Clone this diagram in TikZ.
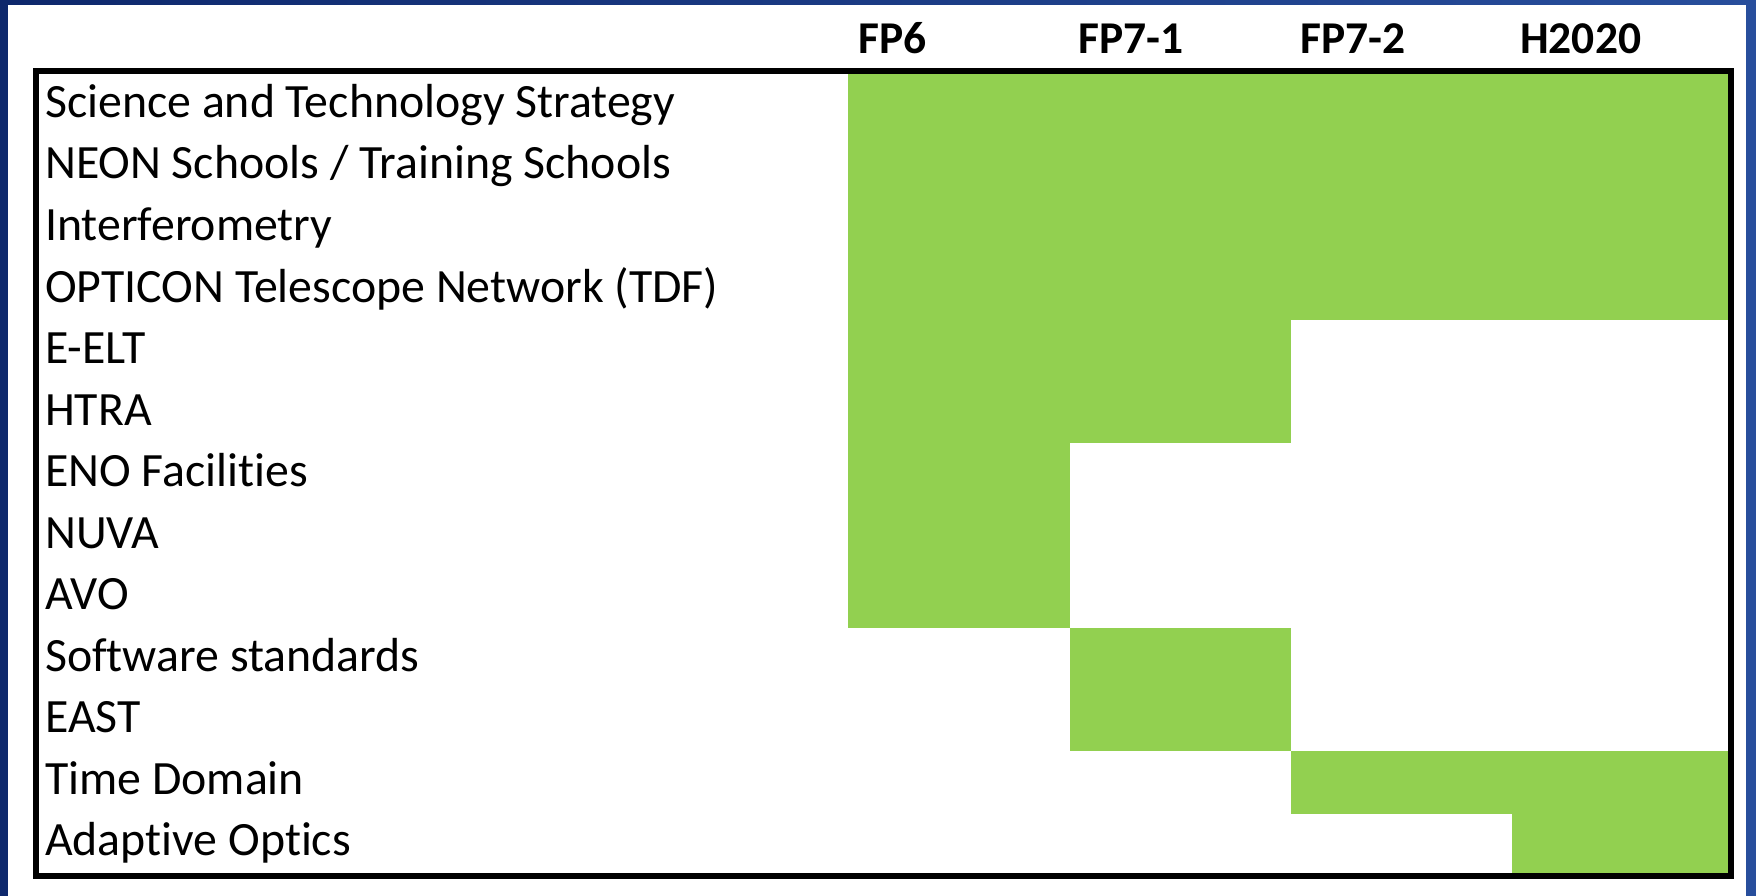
\documentclass[tikz,border=0pt]{standalone}
\usepackage{fontspec}
\setmainfont{Carlito}[Ligatures=NoCommon]
\definecolor{bgdark}{RGB}{14,40,108}
\definecolor{bglight}{RGB}{40,78,156}
\definecolor{cellgreen}{RGB}{146,208,80}
\tikzset{
  rowlabel/.style={anchor=base west, inner sep=0pt, font=\fontsize{47.8}{56}\selectfont},
  headlabel/.style={anchor=base west, inner sep=0pt, font=\fontsize{45.5}{54}\selectfont\bfseries},
  cell/.style={fill=cellgreen, draw=none},
  frame/.style={draw=black, line width=6pt}
}
\begin{document}
\begin{tikzpicture}[x=1pt,y=-1pt]
\useasboundingbox (0,0) rectangle (1756,896);
\shade[left color=bgdark, right color=bglight] (0,0) rectangle (1756,896);
\fill[white] (8,5) rectangle (1746,896);
% green cells
\fill[cell] (848,74) rectangle (1731,320);
\fill[cell] (848,320) rectangle (1291,443);
\fill[cell] (848,443) rectangle (1070,627.5);
\fill[cell] (1070,627.5) rectangle (1291,750.5);
\fill[cell] (1291,750.5) rectangle (1731,814);
\fill[cell] (1512,814) rectangle (1731,873);
% frame
\draw[frame] (36,71) rectangle (1731,876);
% headers
\node[headlabel] (h1) at (858,54) {FP6};
\node[headlabel] (h2) at (1078,54) {FP7-1};
\node[headlabel] (h3) at (1300,54) {FP7-2};
\node[headlabel] (h4) at (1520,54) {H2020};
% row labels
\foreach \i/\t in {0/{Science and Technology Strategy},
                   1/{NEON Schools / Training Schools},
                   2/{Interferometry},
                   3/{OPTICON Telescope Network (TDF)},
                   4/{E-ELT},
                   5/{HTRA},
                   6/{ENO Facilities},
                   7/{NUVA},
                   8/{AVO},
                   9/{Software standards},
                   10/{EAST},
                   11/{Time Domain},
                   12/{Adaptive Optics}}
  \node[rowlabel] (r\i) at (45,{117.5+61.5*\i}) {\t};
\end{tikzpicture}
\end{document}
